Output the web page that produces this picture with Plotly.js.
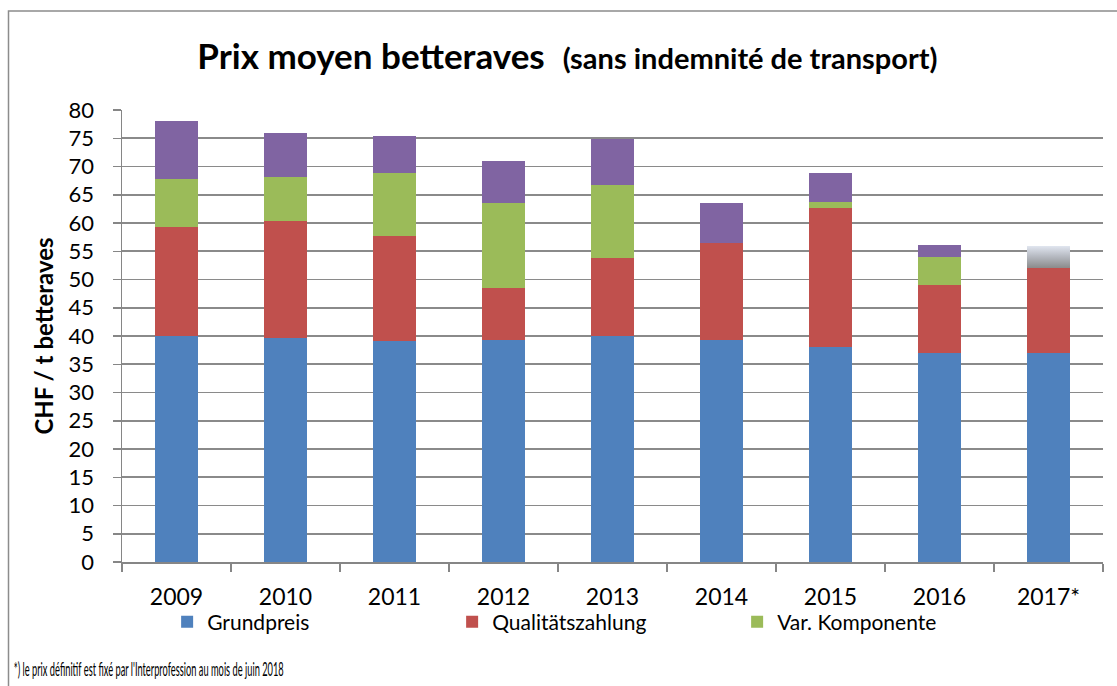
<!DOCTYPE html>
<html>
<head>
<meta charset="utf-8">
<script src="https://cdn.plot.ly/plotly-3.0.1.min.js"></script>
<style>html,body{margin:0;padding:0;background:#fff;}#chart{width:1117px;height:686px;}</style>
</head>
<body>
<div id="chart"></div>
<script>
var years = ['2009', '2010', '2011', '2012', '2013', '2014', '2015', '2016', '2017*'];
var grundpreis = [40.0, 39.7, 39.1, 39.35, 40.0, 39.35, 38.05, 37.0, 37.0];
var qualitaet = [19.3, 20.65, 18.6, 9.15, 13.8, 17.15, 24.6, 12.0, 15.0];
var varKomponente = [8.5, 7.75, 11.15, 15.0, 13.0, 0, 1.05, 5.0, 0];
var weitere = [10.2, 7.9, 6.55, 7.5, 8.1, 7.0, 5.15, 2.1, 4.0];
var seriesNames = ['Grundpreis', 'Qualitätszahlung', 'Var. Komponente', 'Andere'];
var footnote = "*) le prix définitif est fixé par l'Interprofession au mois de juin 2018";

var FONT = 'Lato, "Open Sans", sans-serif';
var purpleColors = weitere.map(function (v, i) { return i === years.length - 1 ? '#b9bdc6' : '#8064A2'; });

var traces = [
  {type: 'bar', name: seriesNames[0], x: years, y: grundpreis, marker: {color: '#4F81BD'}},
  {type: 'bar', name: seriesNames[1], x: years, y: qualitaet, marker: {color: '#C0504D'}},
  {type: 'bar', name: seriesNames[2], x: years, y: varKomponente, marker: {color: '#9BBB59'}},
  {type: 'bar', name: seriesNames[3], x: years, y: weitere, marker: {color: purpleColors}, showlegend: false}
];

var layout = {
  width: 1117, height: 686,
  margin: {l: 122, r: 14, t: 110, b: 124},
  paper_bgcolor: '#fff', plot_bgcolor: '#fff',
  barmode: 'stack', bargap: 0.6,
  font: {family: FONT, color: '#000', size: 19},
  title: {
    text: '<b>Prix moyen betteraves</b>  <b><span style="font-size:29px">(sans indemnité de transport)</span></b>',
    font: {family: FONT, size: 35, color: '#000'},
    x: 0.508, xanchor: 'center', y: 0.918, yanchor: 'middle'
  },
  xaxis: {
    type: 'category', showline: true, linecolor: '#868686', linewidth: 1.5,
    ticks: 'outside', tickson: 'boundaries', ticklen: 8, tickcolor: '#868686', tickwidth: 1.5,
    tickfont: {size: 23}, ticklabelstandoff: 14, showgrid: false, fixedrange: true
  },
  yaxis: {
    range: [0, 80], dtick: 5, showline: true, linecolor: '#868686', linewidth: 1.5,
    ticks: 'outside', ticklen: 8, tickcolor: '#868686', tickwidth: 1.5,
    gridcolor: '#8a8a8a', gridwidth: 1.6, tickfont: {size: 22}, ticklabelstandoff: 14,
    zeroline: false,
    title: {text: '<b>CHF / t betteraves</b>', font: {size: 24}, standoff: 8}
  },
  legend: {
    orientation: 'h', x: 0.046, xanchor: 'left', y: -0.133, yanchor: 'middle',
    font: {size: 21}, entrywidth: 240, entrywidthmode: 'pixels', traceorder: 'normal',
    bgcolor: 'rgba(0,0,0,0)'
  },
  annotations: [{
    xref: 'paper', yref: 'paper', x: (148 - 122) / 981, y: -(668 - 562) / 452,
    xanchor: 'center', yanchor: 'middle', showarrow: false,
    text: footnote,
    font: {family: FONT, size: 20, color: '#000'}
  }],
  shapes: [{
    type: 'rect', xref: 'paper', yref: 'paper',
    x0: (8.5 - 122) / 981, x1: (1125 - 122) / 981,
    y0: -(700 - 562) / 452, y1: 1 + (110 - 11) / 452,
    line: {color: '#8c8c8c', width: 1.5}, fillcolor: 'rgba(0,0,0,0)', layer: 'below'
  }]
};

Plotly.newPlot('chart', traces, layout, {displayModeBar: false, staticPlot: true}).then(function (gd) {
  var NS = 'http://www.w3.org/2000/svg';
  // condense the footnote like the narrow font of the original
  var t = gd.querySelector('.annotation-text');
  if (t) {
    t.setAttribute('text-anchor', 'middle');
    t.setAttribute('textLength', '270');
    t.setAttribute('lengthAdjust', 'spacingAndGlyphs');
  }
  // gradient fill for the provisional 2017 segment
  var svg = gd.querySelector('svg.main-svg');
  var defs = svg.querySelector('defs') || svg.insertBefore(document.createElementNS(NS, 'defs'), svg.firstChild);
  var lg = document.createElementNS(NS, 'linearGradient');
  lg.setAttribute('id', 'grad2017');
  lg.setAttribute('x1', '0'); lg.setAttribute('y1', '0');
  lg.setAttribute('x2', '0'); lg.setAttribute('y2', '1');
  [['0', '#e2e7f1'], ['0.45', '#b8bcc4'], ['1', '#8a8a8a']].forEach(function (s) {
    var st = document.createElementNS(NS, 'stop');
    st.setAttribute('offset', s[0]);
    st.setAttribute('stop-color', s[1]);
    lg.appendChild(st);
  });
  defs.appendChild(lg);
  var barTraces = gd.querySelectorAll('.barlayer .trace');
  if (barTraces.length >= 4) {
    var pts = barTraces[3].querySelectorAll('.point path');
    var last = pts[pts.length - 1];
    if (last) last.style.fill = 'url(#grad2017)';
  }
});
</script>
</body>
</html>
